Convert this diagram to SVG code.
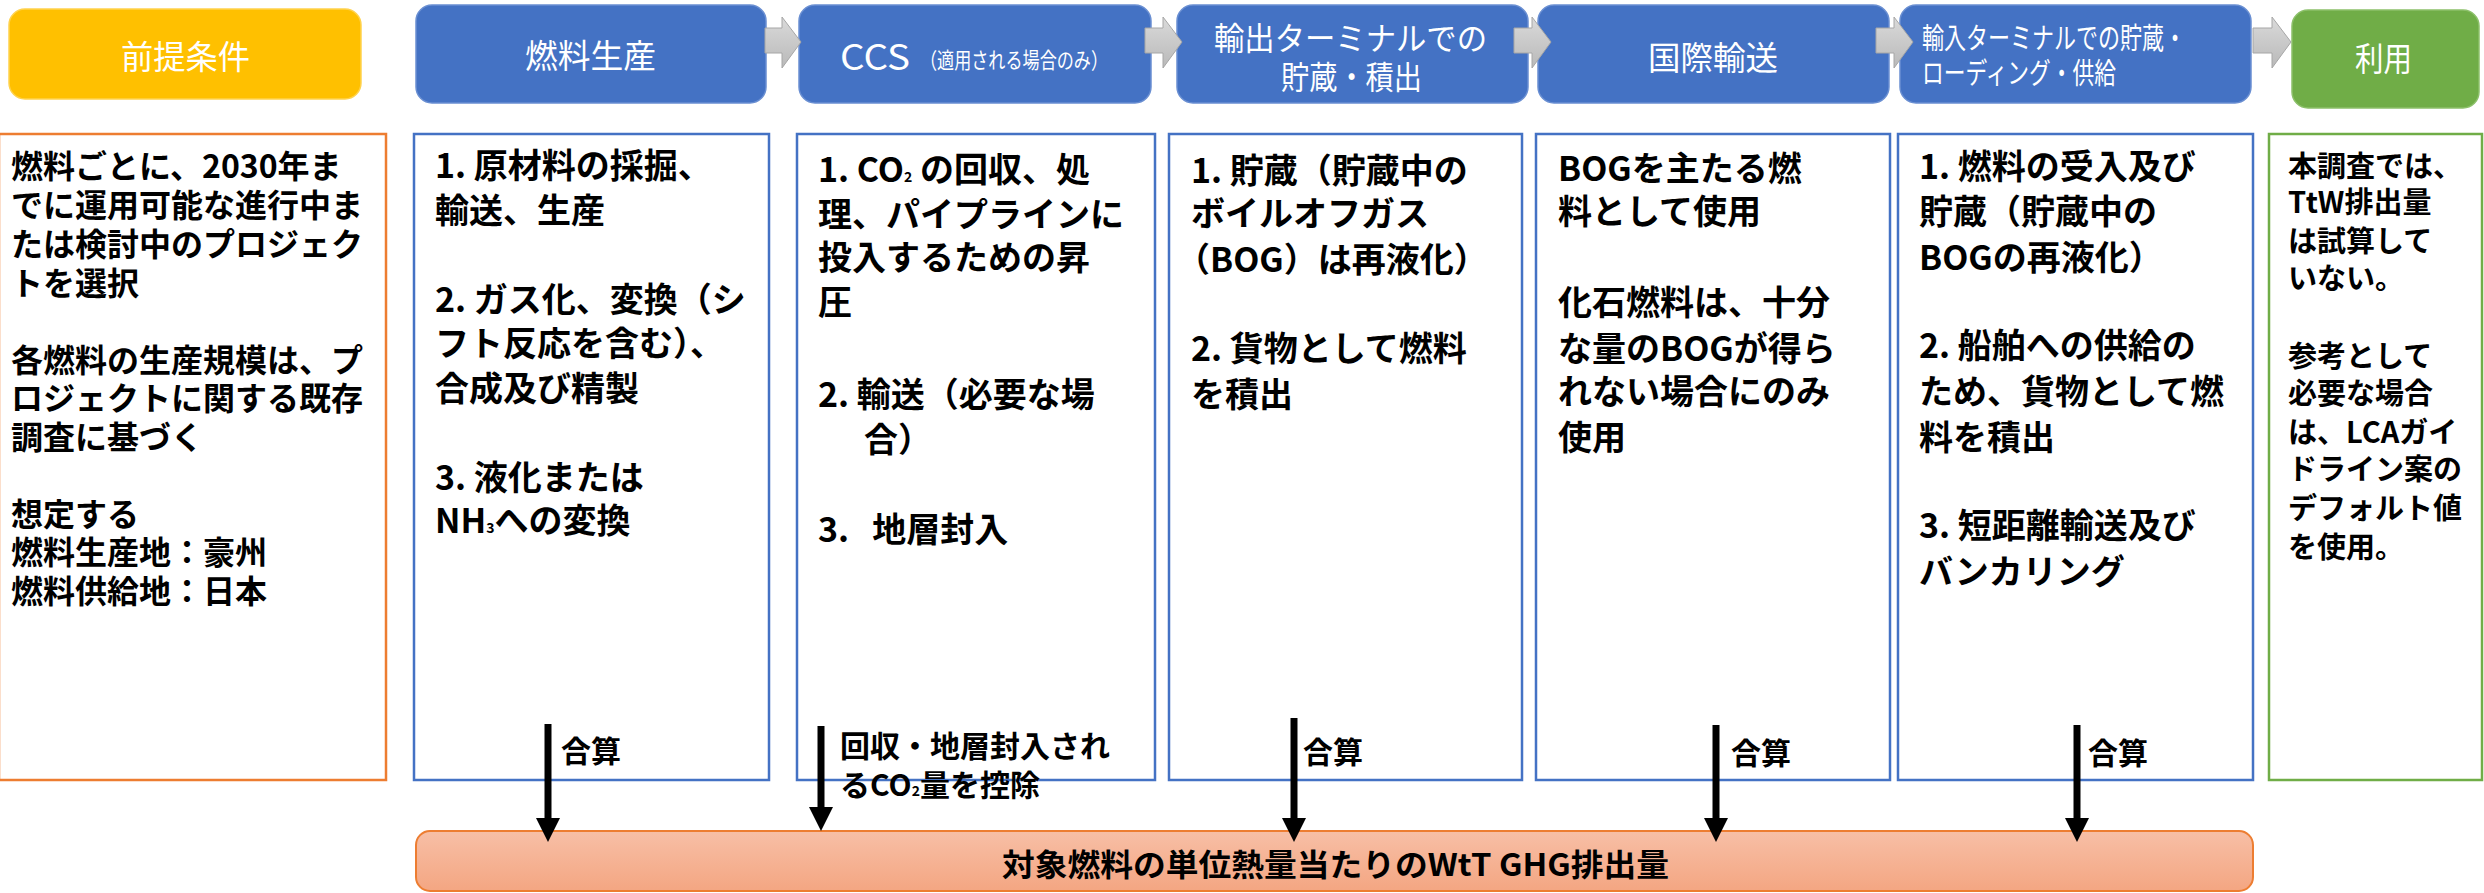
<svg xmlns="http://www.w3.org/2000/svg" width="2484" height="893" viewBox="0 0 2484 893">
<defs>
<linearGradient id="gArrow" x1="0" y1="0" x2="0" y2="1">
<stop offset="0" stop-color="#DADADA"/><stop offset="1" stop-color="#B9B9B9"/>
</linearGradient>
<linearGradient id="gBar" x1="0" y1="0" x2="0" y2="1">
<stop offset="0" stop-color="#F7BFA6"/><stop offset="1" stop-color="#F4A682"/>
</linearGradient>
<marker id="ah" markerUnits="userSpaceOnUse" markerWidth="24" markerHeight="24" refX="4" refY="12" orient="auto">
<path d="M0,0 L24,12 L0,24 z" fill="#000"/>
</marker>
<style>
text{font-family:"Noto Sans CJK JP","Noto Sans",sans-serif;}
.hd{fill:#FFFFFF;font-size:33px;}
.hb{fill:#4472C4;stroke:#6A8FD2;stroke-width:1.5;}
.body{fill:#000;font-size:34px;font-weight:600;}
.left{fill:#000;font-size:32px;font-weight:600;}
.use{fill:#000;font-size:29px;font-weight:600;}
.cb{fill:#FFFFFF;stroke:#4472C4;stroke-width:2.5;}
.lbl{fill:#000;font-size:30px;font-weight:600;}
.ga{fill:url(#gArrow);stroke:#A6A6A6;stroke-width:1;}
.conn{stroke:#000;stroke-width:7;fill:none;marker-end:url(#ah);}
.sub{font-size:14px;}
</style>
</defs>
<rect width="2484" height="893" fill="#FFFFFF"/>

<!-- header row -->
<g id="h-premise">
<rect x="9" y="9" width="352" height="90" rx="16" fill="#FFC000" stroke="#FFD24D" stroke-width="1.5"/>
<text class="hd" x="121" y="69" textLength="129" lengthAdjust="spacingAndGlyphs">前提条件</text>
</g>
<g id="h-production">
<rect class="hb" x="416" y="5" width="350" height="98" rx="16"/>
<text class="hd" x="525" y="68" textLength="131" lengthAdjust="spacingAndGlyphs">燃料生産</text>
</g>
<g id="h-ccs">
<rect class="hb" x="799" y="5" width="352" height="98" rx="16"/>
<text class="hd" x="840" y="70" style="font-size:35px" textLength="70" lengthAdjust="spacingAndGlyphs">CCS</text>
<text class="hd" x="920" y="68" style="font-size:22px" textLength="188" lengthAdjust="spacingAndGlyphs">（適用される場合のみ）</text>
</g>
<g id="h-export">
<rect class="hb" x="1177" y="5" width="351" height="98" rx="16"/>
<text class="hd" x="1214" y="50" style="font-size:32px" textLength="273" lengthAdjust="spacingAndGlyphs">輸出ターミナルでの</text>
<text class="hd" x="1281" y="89" style="font-size:32px" textLength="141" lengthAdjust="spacingAndGlyphs">貯蔵・積出</text>
</g>
<g id="h-transport">
<rect class="hb" x="1538" y="5" width="351" height="98" rx="16"/>
<text class="hd" x="1648" y="70" textLength="130" lengthAdjust="spacingAndGlyphs">国際輸送</text>
</g>
<g id="h-import">
<rect class="hb" x="1900" y="5" width="351" height="98" rx="16"/>
<text class="hd" x="1922" y="49" style="font-size:29px" textLength="264" lengthAdjust="spacingAndGlyphs">輸入ターミナルでの貯蔵・</text>
<text class="hd" x="1922" y="84" style="font-size:29px" textLength="194" lengthAdjust="spacingAndGlyphs">ローディング・供給</text>
</g>
<g id="h-use">
<rect x="2292" y="10" width="187" height="98" rx="16" fill="#70AD47" stroke="#8CC06A" stroke-width="1.5"/>
<text class="hd" x="2355" y="71" textLength="57" lengthAdjust="spacingAndGlyphs">利用</text>
</g>

<!-- header chevron arrows -->
<g id="flow-arrows">
<path class="ga" d="M765,28 H782 V17 L801,42 L782,68 V53 H765 Z"/>
<path class="ga" d="M1145,28 H1163 V17 L1182,42 L1163,68 V53 H1145 Z"/>
<path class="ga" d="M1514,28 H1532 V17 L1551,42 L1532,68 V53 H1514 Z"/>
<path class="ga" d="M1876,28 H1894 V17 L1913,42 L1894,68 V53 H1876 Z"/>
<path class="ga" d="M2253,28 H2272 V17 L2291,42 L2272,68 V53 H2253 Z"/>
</g>

<!-- content boxes -->
<g id="c-premise">
<rect x="-1" y="134" width="387" height="646" fill="#FFFFFF" stroke="#ED7D31" stroke-width="2.5"/>
<text class="left">
<tspan x="11" y="178">燃料ごとに、2030年ま</tspan>
<tspan x="11" y="217">でに運用可能な進行中ま</tspan>
<tspan x="11" y="256">たは検討中のプロジェク</tspan>
<tspan x="11" y="295">トを選択</tspan>
<tspan x="11" y="372">各燃料の生産規模は、プ</tspan>
<tspan x="11" y="410">ロジェクトに関する既存</tspan>
<tspan x="11" y="449">調査に基づく</tspan>
<tspan x="11" y="526">想定する</tspan>
<tspan x="11" y="564">燃料生産地：豪州</tspan>
<tspan x="11" y="603">燃料供給地：日本</tspan>
</text>
</g>

<g id="c-production">
<rect class="cb" x="414" y="134" width="355" height="646"/>
<text class="body">
<tspan x="435" y="178">1. 原材料の採掘、</tspan>
<tspan x="435" y="223">輸送、生産</tspan>
<tspan x="435" y="312">2. ガス化、変換（シ</tspan>
<tspan x="435" y="356">フト反応を含む）、</tspan>
<tspan x="435" y="401">合成及び精製</tspan>
<tspan x="435" y="490">3. 液化または</tspan>
<tspan x="435" y="533">NH<tspan class="sub">3</tspan>への変換</tspan>
</text>
<text class="lbl" x="561" y="762">合算</text>
</g>

<g id="c-ccs">
<rect class="cb" x="797" y="134" width="358" height="646"/>
<text class="body">
<tspan x="818" y="182">1. CO<tspan class="sub">2</tspan>&#160;の回収、処</tspan>
<tspan x="818" y="227">理、パイプラインに</tspan>
<tspan x="818" y="270">投入するための昇</tspan>
<tspan x="818" y="315">圧</tspan>
<tspan x="818" y="407">2. 輸送（必要な場</tspan>
<tspan x="864" y="452">合）</tspan>
<tspan x="818" y="542">3.&#160;&#160;&#160;地層封入</tspan>
</text>
<text class="lbl">
<tspan x="840" y="757">回収・地層封入され</tspan>
<tspan x="840" y="796">るCO<tspan class="sub">2</tspan>量を控除</tspan>
</text>
</g>

<g id="c-export">
<rect class="cb" x="1169" y="134" width="353" height="646"/>
<text class="body">
<tspan x="1191" y="183">1. 貯蔵（貯蔵中の</tspan>
<tspan x="1191" y="226">ボイルオフガス</tspan>
<tspan x="1176" y="272">（BOG）は再液化）</tspan>
<tspan x="1191" y="361">2. 貨物として燃料</tspan>
<tspan x="1191" y="407">を積出</tspan>
</text>
<text class="lbl" x="1303" y="763">合算</text>
</g>

<g id="c-transport">
<rect class="cb" x="1536" y="134" width="354" height="646"/>
<text class="body">
<tspan x="1558" y="181">BOGを主たる燃</tspan>
<tspan x="1558" y="224">料として使用</tspan>
<tspan x="1558" y="315">化石燃料は、十分</tspan>
<tspan x="1558" y="361">な量のBOGが得ら</tspan>
<tspan x="1558" y="404">れない場合にのみ</tspan>
<tspan x="1558" y="450">使用</tspan>
</text>
<text class="lbl" x="1731" y="764">合算</text>
</g>

<g id="c-import">
<rect class="cb" x="1898" y="134" width="355" height="646"/>
<text class="body">
<tspan x="1919" y="179">1. 燃料の受入及び</tspan>
<tspan x="1919" y="224">貯蔵（貯蔵中の</tspan>
<tspan x="1919" y="270">BOGの再液化）</tspan>
<tspan x="1919" y="358">2. 船舶への供給の</tspan>
<tspan x="1919" y="404">ため、貨物として燃</tspan>
<tspan x="1919" y="450">料を積出</tspan>
<tspan x="1919" y="538">3. 短距離輸送及び</tspan>
<tspan x="1919" y="584">バンカリング</tspan>
</text>
<text class="lbl" x="2088" y="764">合算</text>
</g>

<g id="c-use">
<rect x="2269" y="134" width="213" height="646" fill="#FFFFFF" stroke="#70AD47" stroke-width="2.5"/>
<text class="use">
<tspan x="2288" y="177">本調査では、</tspan>
<tspan x="2288" y="213">TtW排出量</tspan>
<tspan x="2288" y="252">は試算して</tspan>
<tspan x="2288" y="289">いない。</tspan>
<tspan x="2288" y="367">参考として</tspan>
<tspan x="2288" y="404">必要な場合</tspan>
<tspan x="2288" y="443">は、LCAガイ</tspan>
<tspan x="2288" y="480">ドライン案の</tspan>
<tspan x="2288" y="519">デフォルト値</tspan>
<tspan x="2288" y="558">を使用。</tspan>
</text>
</g>

<!-- result bar -->
<g id="result">
<rect x="416" y="831" width="1837" height="60" rx="14" fill="url(#gBar)" stroke="#ED7D31" stroke-width="2"/>
<text x="1002" y="876" style="font-size:31px;font-weight:bold" fill="#000" textLength="667" lengthAdjust="spacingAndGlyphs">対象燃料の単位熱量当たりのWtT GHG排出量</text>
</g>

<!-- connectors -->
<g id="connectors">
<line class="conn" x1="548" y1="724" x2="548" y2="822"/>
<line class="conn" x1="821" y1="726" x2="821" y2="811"/>
<line class="conn" x1="1294" y1="718" x2="1294" y2="822"/>
<line class="conn" x1="1716" y1="725" x2="1716" y2="822"/>
<line class="conn" x1="2077" y1="725" x2="2077" y2="822"/>
</g>
</svg>
